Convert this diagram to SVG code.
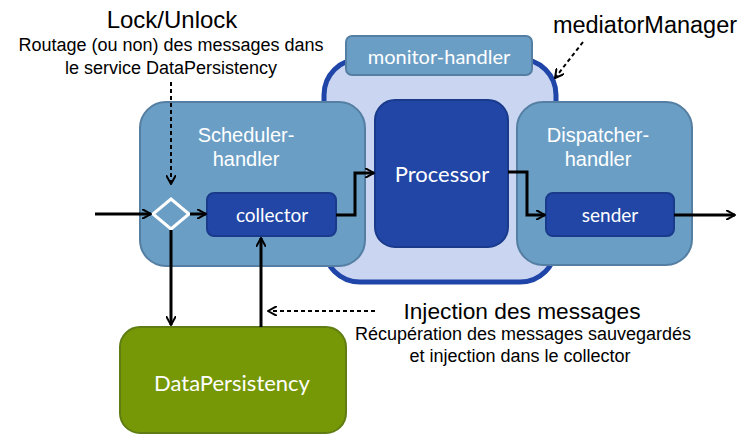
<svg xmlns="http://www.w3.org/2000/svg" width="742" height="436" viewBox="0 0 742 436">
<defs>
<marker id="ahs" viewBox="0 0 10 10" refX="9" refY="5" markerWidth="10" markerHeight="10" orient="auto" markerUnits="userSpaceOnUse">
<path d="M0,0 L9,5 L0,10" fill="none" stroke="#000" stroke-width="2"/>
</marker>
</defs>
<style>
.mid{fill:#6b9ec5;stroke:#557fa2;stroke-width:2}
.dark{fill:#2146a6;stroke:#1a3a8c;stroke-width:2}
.wt{fill:#fff;text-anchor:middle}
.ar{font-family:"Liberation Sans",Arial,sans-serif}
.ca{font-family:Lato,"Open Sans",sans-serif}
.bk{fill:#000;text-anchor:middle;font-family:"Liberation Sans",Arial,sans-serif}
.ln{fill:none;stroke:#000;stroke-width:3;marker-end:url(#ahs)}
.dl{fill:none;stroke:#000;stroke-width:2;stroke-dasharray:4,3;marker-end:url(#ahs)}
</style>
<rect width="742" height="436" fill="#fff"/>

<g id="mediatorManager">
<rect x="324" y="59" width="232" height="223" rx="36" fill="#c9d5f1" stroke="#1f45a8" stroke-width="5"/>
</g>
<g id="monitor-handler">
<rect x="346" y="36" width="186" height="39" rx="6" class="mid"/>
<text x="439" y="64" class="wt ca" font-size="20">monitor-handler</text>
</g>
<g id="processor">
<rect x="375" y="100" width="133" height="147" rx="20" class="dark"/>
<text x="442" y="182" class="wt ca" font-size="22">Processor</text>
</g>
<g id="scheduler-handler">
<rect x="140" y="102" width="225" height="164" rx="26" class="mid"/>
<text x="246" y="142" class="wt ar" font-size="20">Scheduler-</text>
<text x="246" y="166" class="wt ar" font-size="20">handler</text>
</g>
<g id="collector">
<rect x="207" y="193" width="129" height="43" rx="7" class="dark"/>
<text x="272" y="222" class="wt ca" font-size="19">collector</text>
</g>
<g id="router">
<polygon points="171,199 189,214 171,229 153,214" fill="#6b9ec5" stroke="#fff" stroke-width="3"/>
</g>
<g id="dispatcher-handler">
<rect x="517" y="102" width="175" height="163" rx="26" class="mid"/>
<text x="598" y="142" class="wt ar" font-size="20">Dispatcher-</text>
<text x="598" y="166" class="wt ar" font-size="20">handler</text>
</g>
<g id="sender">
<rect x="546" y="193" width="128" height="43" rx="7" class="dark"/>
<text x="610" y="222" class="wt ca" font-size="19">sender</text>
</g>
<g id="dataPersistency">
<rect x="120" y="327" width="226" height="106" rx="20" fill="#769806" stroke="#5f7d12" stroke-width="2"/>
<text x="232" y="391" class="wt ca" font-size="22">DataPersistency</text>
</g>

<g id="labels">
<text x="172" y="28" class="bk" font-size="24">Lock/Unlock</text>
<text x="171" y="51" class="bk" font-size="18">Routage (ou non) des messages dans</text>
<text x="171" y="74" class="bk" font-size="18">le service DataPersistency</text>
<text x="645" y="33" class="bk" font-size="23.5">mediatorManager</text>
<text x="522" y="319" class="bk" font-size="22.7">Injection des messages</text>
<text x="523" y="340" class="bk" font-size="18">Récupération des messages sauvegardés</text>
<text x="520" y="362" class="bk" font-size="18">et injection dans le collector</text>
</g>

<g id="connectors">
<line x1="95" y1="214" x2="151" y2="214" class="ln"/>
<line x1="190" y1="214" x2="206" y2="214" class="ln"/>
<polyline points="336,215 355,215 355,173 374,173" class="ln"/>
<polyline points="508,172 527,172 527,215 545,215" class="ln"/>
<line x1="674" y1="215" x2="735" y2="215" class="ln"/>
<line x1="171" y1="230" x2="171" y2="325" class="ln"/>
<line x1="261" y1="327" x2="261" y2="238" class="ln"/>
<line x1="171" y1="82" x2="171" y2="184" class="dl"/>
<line x1="375" y1="311" x2="268" y2="311" class="dl"/>
<line x1="583" y1="42" x2="555" y2="78" class="dl" stroke-width="3"/>
</g>
</svg>
